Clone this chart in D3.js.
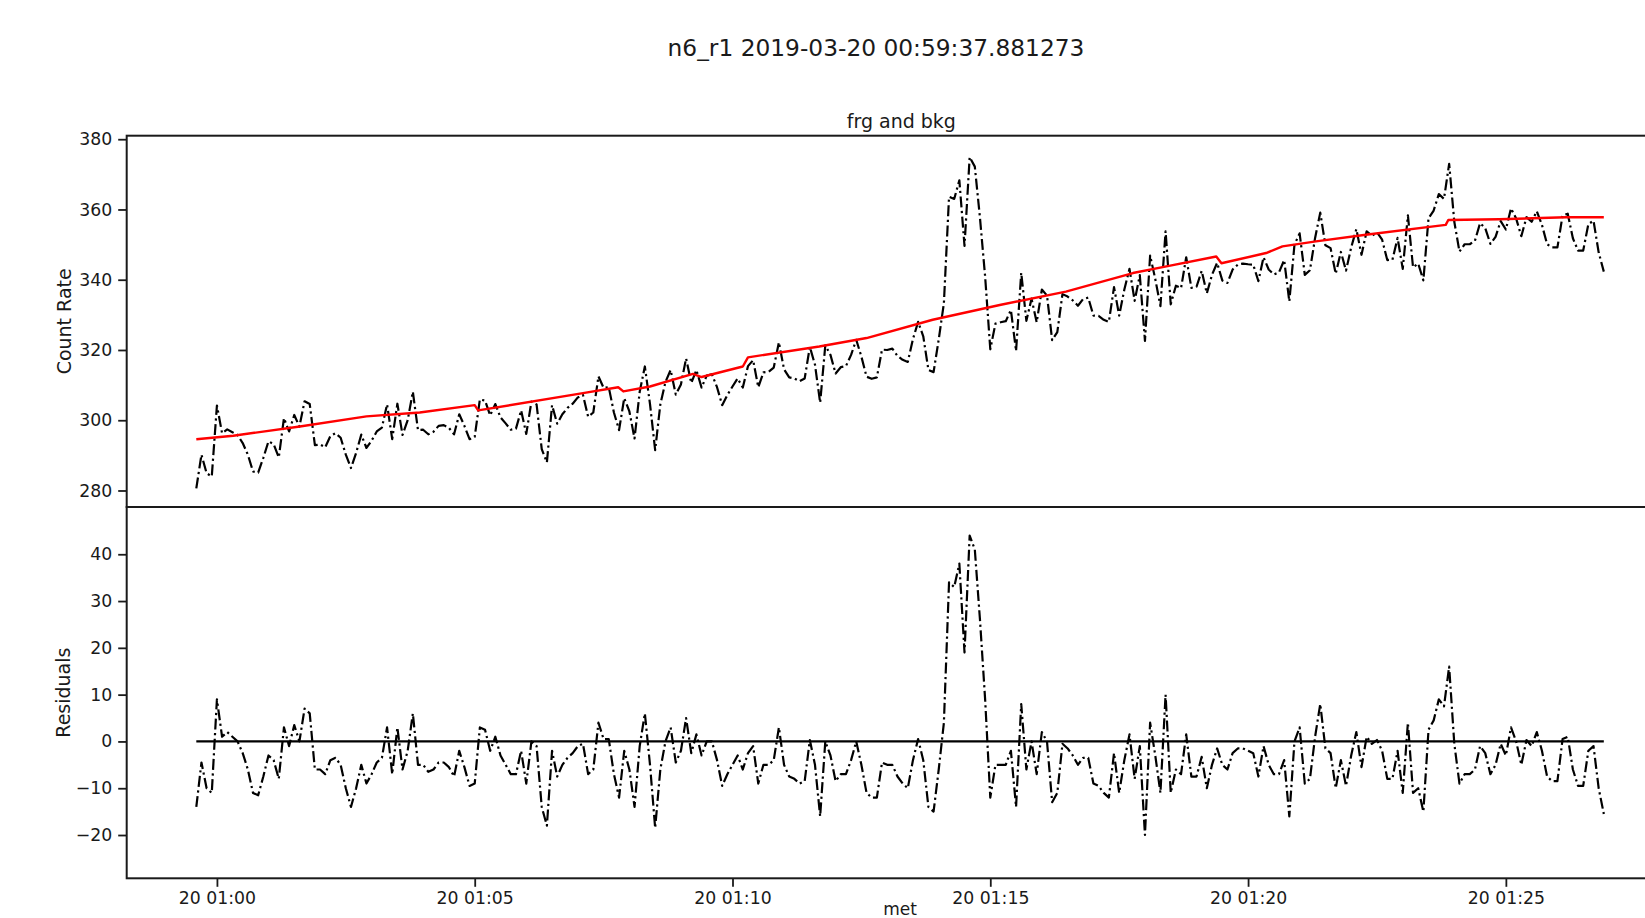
<!DOCTYPE html>
<html><head><meta charset="utf-8">
<script src="https://cdn.jsdelivr.net/npm/d3@7/dist/d3.min.js"></script>
<style>
body{margin:0;background:#fff}
svg{display:block}
text{font-family:"DejaVu Sans",sans-serif;fill:#1a1a1a}
</style>
</head><body>
<svg id="chart" width="1645" height="918"></svg>
<script>
// ---------------- data ----------------
const chartTitle = "n6_r1 2019-03-20 00:59:37.881273";
const panelTitle = "frg and bkg";
const startTime = "2019-03-20T00:59:36Z";
const stepSeconds = 6;

const countRate = [
280.6,290.2,284.9,284.0,304.2,296.3,297.4,296.6,295.8,293.5,
290.2,285.4,285.1,289.3,294.0,293.2,289.4,300.6,296.8,301.5,
298.2,305.4,304.6,292.9,293.1,292.3,295.5,296.3,295.0,290.2,
286.4,290.7,295.9,292.1,294.2,296.8,297.9,304.5,294.6,304.7,
295.8,300.0,308.1,297.2,297.3,296.0,296.7,298.4,298.6,297.8,
296.0,301.7,298.4,294.6,295.3,305.9,305.6,301.4,304.6,300.8,
299.1,297.3,297.6,302.8,296.1,305.3,304.5,291.8,288.0,304.3,
299.0,301.7,303.5,304.7,306.5,307.2,301.0,302.2,312.5,309.2,
309.4,302.2,297.2,306.3,302.5,294.8,308.1,315.3,304.6,291.5,
304.5,310.9,314.3,307.3,310.2,317.6,310.6,314.3,309.3,312.7,
313.1,309.4,304.3,307.2,309.6,311.9,309.3,315.4,317.1,309.4,
313.6,313.8,315.0,322.2,314.5,312.2,311.9,311.1,311.9,320.9,
315.8,305.0,321.3,318.6,313.3,315.1,315.4,318.6,322.9,318.1,
312.4,311.8,312.2,320.1,320.0,320.4,318.3,317.2,316.6,323.1,
328.0,323.9,314.3,313.7,323.0,333.3,363.6,363.0,368.3,349.6,
374.9,372.2,357.6,340.9,320.2,327.5,327.9,328.2,331.4,319.7,
342.0,328.3,334.6,327.9,337.2,335.5,322.8,325.1,335.9,335.2,
334.1,332.6,334.5,334.9,329.8,329.7,328.6,328.0,337.9,329.8,
337.2,343.1,334.0,341.3,322.6,346.9,340.2,332.5,353.8,333.0,
338.3,337.6,346.4,337.7,338.0,342.5,336.1,341.4,344.8,339.8,
339.1,342.9,344.3,344.6,344.4,344.3,339.6,346.4,342.9,341.5,
342.1,345.6,333.8,350.0,353.2,341.4,342.7,351.9,359.1,349.8,
349.0,341.7,347.9,342.6,349.2,354.4,347.1,353.8,352.5,353.5,
351.4,345.6,345.7,351.9,343.1,358.3,343.5,344.6,339.8,357.5,
359.7,364.4,363.0,373.0,356.5,348.0,350.1,350.1,351.1,356.1,
354.7,350.2,352.2,356.7,354.3,360.3,357.4,352.4,357.8,356.5,
359.5,355.6,350.1,349.2,349.2,358.3,358.8,351.8,348.3,348.3,
355.8,356.8,347.8,342.3
];

const residuals = [
-14,-4.5,-10,-11,9,1,2,1,0,-2.5,
-6,-11,-11.5,-7.5,-3,-4,-8,3,-1,3.5,
0,7,6,-6,-6,-7,-4,-3.5,-5,-10,
-14,-10,-5,-9,-7,-4.5,-3.5,3,-7,3,
-6,-2,6,-5,-5,-6.5,-6,-4.5,-4.5,-5.5,
-7.5,-2,-5.5,-9.5,-9,3,2.5,-2,1,-3,
-5,-7,-7,-2,-9,0,-1,-14,-18,-2,
-7.5,-5,-3.5,-2.5,-1,-0.5,-7,-6,4,0.5,
0.5,-7,-12,-2,-6,-14,-1,6,-5,-18.5,
-6,0,3,-4.5,-2,5,-2.5,1.5,-3,0,
0,-4,-9.5,-7,-5,-3,-6,-2.5,-1,-9,
-5,-5,-4,3,-5,-7.5,-8,-9,-8.5,0.3,
-5,-16,0,-3,-8.5,-7,-7,-4,0,-5,
-11,-12,-12,-4.5,-5,-5,-7.5,-9,-10,-4,
0.5,-4,-14,-15,-6,4,34,33,38,19,
44,41,26,9,-12,-5,-5,-5,-2,-14,
8,-6,0,-7,2,0,-13,-11,-0.5,-1.5,
-3,-5,-3.5,-3.5,-9,-9.5,-11,-12,-2.5,-11,
-4,1.5,-8,-1,-20,4,-3,-11,10,-11,
-6,-7,1.5,-7.5,-7.5,-3.3,-10,-5,-1.5,-5,
-6,-2.5,-1.5,-1.5,-2,-2.5,-7.5,-1,-5,-7,
-7,-4,-16,0,3,-9,-8,1,8,-1.5,
-2.5,-10,-4,-9.5,-3,2,-5.5,1,-0.5,0.3,
-2,-8,-8,-2,-11,4,-11,-10,-15,2.5,
4.5,9,7.5,16,-0.5,-9,-7,-7,-6,-1,
-2.5,-7,-5,-0.5,-3,3,0,-5,0.3,-1,
2,-2,-7.5,-8.5,-8.5,0.5,1,-6,-9.5,-9.5,
-2,-1,-10,-15.5
];

// background model knots: seconds after startTime, and value
const bkgOffsets = [0,43,120.5,198,260,324,328,450,491,497,528,578,588,636,642,725,780,857,935,1012,1090,1129,1187,1193,1245,1264,1303,1361,1454,1457,1516,1594,1638];
const bkgValues  = [294.6,295.6,298.2,301.1,302.2,304.3,302.8,307.7,309.4,308.2,309.6,313.2,312.3,315.3,317.9,321.0,323.4,328.6,332.8,336.6,341.9,343.8,346.6,344.7,347.6,349.5,350.9,352.8,355.6,357.0,357.2,357.8,357.8];

const countTicks = [280,300,320,340,360,380];
const residualTicks = [-20,-10,0,10,20,30,40];
const timeTicks = ["2019-03-20T01:00:00Z","2019-03-20T01:05:00Z","2019-03-20T01:10:00Z","2019-03-20T01:15:00Z","2019-03-20T01:20:00Z","2019-03-20T01:25:00Z"];
const xDomain = ["2019-03-20T00:58:15Z","2019-03-20T01:28:18Z"];

// ---------------- layout ----------------
const svg = d3.select("#chart");
const L = 126.7, R = 1676;
const topY0 = 135.7, midY = 507, botY1 = 878.3;
const t0 = new Date(startTime).getTime();
const timeAt = i => new Date(t0 + i * stepSeconds * 1000);

const x = d3.scaleUtc().domain(xDomain.map(d => new Date(d))).range([L, R]);
const yTop = d3.scaleLinear().domain([275.3, 381.0]).range([midY, topY0]);
const yBot = d3.scaleLinear().domain([-29.25, 50.1]).range([botY1, midY]);

const ink = "#1a1a1a";
const tickFont = "17.3px";

// data lines
const lineTop = d3.line().x((d, i) => x(timeAt(i))).y(d => yTop(d));
const lineBot = d3.line().x((d, i) => x(timeAt(i))).y(d => yBot(d));
const bkgLine = d3.line().x((d, i) => x(new Date(t0 + bkgOffsets[i] * 1000))).y(d => yTop(d));

const dash = "11,3.5,2.2,3.5";

svg.append("path").datum(countRate).attr("d", lineTop)
  .attr("fill", "none").attr("stroke", "#000").attr("stroke-width", 2.2)
  .attr("stroke-dasharray", dash).attr("stroke-linejoin", "round");

svg.append("path").datum(bkgValues).attr("d", bkgLine)
  .attr("fill", "none").attr("stroke", "#ff0000").attr("stroke-width", 2.4)
  .attr("stroke-linejoin", "round");

svg.append("path").datum(residuals).attr("d", lineBot)
  .attr("fill", "none").attr("stroke", "#000").attr("stroke-width", 2.2)
  .attr("stroke-dasharray", dash).attr("stroke-linejoin", "round");

// zero line
svg.append("path").datum([0, residuals.length - 1])
  .attr("d", d3.line().x(i => x(timeAt(i))).y(() => yBot(0)))
  .attr("fill", "none").attr("stroke", "#000").attr("stroke-width", 2.2);

// axes
function styleAxis(g) {
  g.select(".domain").remove();
  g.selectAll(".tick line").attr("stroke", ink).attr("stroke-width", 1.8);
  g.selectAll(".tick text").attr("fill", ink).style("font-size", tickFont)
    .style("font-family", '"DejaVu Sans", sans-serif');
}
svg.append("g").attr("transform", `translate(${L},0)`)
  .call(d3.axisLeft(yTop).tickValues(countTicks).tickSize(8.5).tickPadding(6))
  .call(styleAxis);
svg.append("g").attr("transform", `translate(${L},0)`)
  .call(d3.axisLeft(yBot).tickValues(residualTicks).tickSize(8.5).tickPadding(6))
  .call(styleAxis);
svg.append("g").attr("transform", `translate(0,${botY1})`)
  .call(d3.axisBottom(x).tickValues(timeTicks.map(d => new Date(d)))
    .tickFormat(d3.utcFormat("%d %H:%M")).tickSize(8.5).tickPadding(5))
  .call(styleAxis);

// spines
svg.append("rect").attr("x", L).attr("y", topY0).attr("width", R - L).attr("height", midY - topY0)
  .attr("fill", "none").attr("stroke", ink).attr("stroke-width", 2);
svg.append("rect").attr("x", L).attr("y", midY).attr("width", R - L).attr("height", botY1 - midY)
  .attr("fill", "none").attr("stroke", ink).attr("stroke-width", 2);

// texts
svg.append("text").attr("x", 876).attr("y", 55.5).attr("text-anchor", "middle")
  .style("font-size", "23.3px").text(chartTitle);
svg.append("text").attr("x", (L + R) / 2).attr("y", 128).attr("text-anchor", "middle")
  .style("font-size", "19px").text(panelTitle);
svg.append("text").attr("transform", `translate(71,${(topY0 + midY) / 2}) rotate(-90)`)
  .attr("text-anchor", "middle").style("font-size", "19px").text("Count Rate");
svg.append("text").attr("transform", `translate(70,${(midY + botY1) / 2}) rotate(-90)`)
  .attr("text-anchor", "middle").style("font-size", "19px").text("Residuals");
svg.append("text").attr("x", 900).attr("y", 915).attr("text-anchor", "middle")
  .style("font-size", "17px").text("met");
</script>
</body></html>
